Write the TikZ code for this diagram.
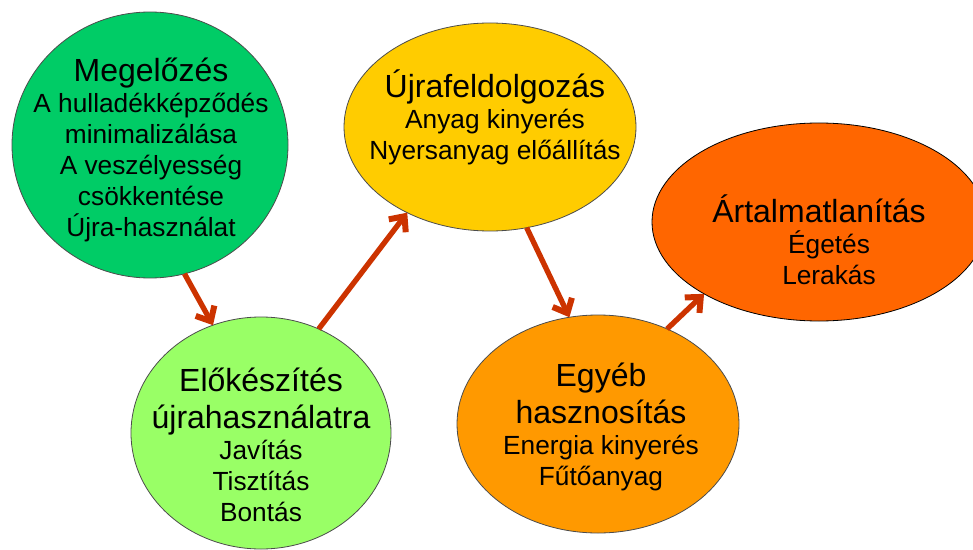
\documentclass[tikz,border=0pt]{standalone}
\usepackage{fontspec}
\setmainfont{Liberation Sans}
\usepackage{tikz}
\usetikzlibrary{shapes.geometric,arrows.meta}
\definecolor{prevgreen}{HTML}{00CC66}
\definecolor{prepgreen}{HTML}{99FF66}
\definecolor{recyellow}{HTML}{FFCC00}
\definecolor{useorange}{HTML}{FF9900}
\definecolor{dispred}{HTML}{FF6600}
\definecolor{arrowred}{HTML}{CC3300}
\newcommand{\headfont}{\fontsize{24}{28}\selectfont}
\newcommand{\itemfont}{\fontsize{19.7}{23.25}\selectfont}

\begin{document}
\begin{tikzpicture}
                        [
                            x=0.75pt, y=-0.75pt,
                            stage style/.style={ellipse, draw=black!70, line width=0.6pt, inner sep=0pt, outer sep=0pt},
                            label style/.style={align=center, font=\itemfont, inner sep=0pt},
                            flow style/.style={-{Straight Barb[length=9pt,width=16pt,line width=4.5pt]}, line width=4pt, color=arrowred}
                        ]
                        \fill[white] (0,0) rectangle (973,549);
                        \useasboundingbox (0,0) rectangle (973,549);
                        \clip (0,0) rectangle (973,549);
                        % the five stages
                        \node[stage style, fill=prevgreen, minimum width=207pt, minimum height=199.5pt] (prevent) at (150,145) {};
                        \node[stage style, fill=prepgreen, minimum width=195pt, minimum height=174pt] (prepare) at (261,433) {};
                        \node[stage style, fill=recyellow, minimum width=219pt, minimum height=156pt] (recycle) at (490,127) {};
                        \node[stage style, fill=useorange, minimum width=211.5pt, minimum height=163.5pt] (recover) at (598,424) {};
                        \node[stage style, fill=dispred, draw=black, minimum width=250.5pt, minimum height=148.5pt] (dispose) at (819,222) {};
                        % texts
                        \node[label style] (prevent text) at (151,150) {{\headfont Megelőzés}\\A hulladékképződés\\minimalizálása\\A veszélyesség\\csökkentése\\Újra-használat};
                        \node[label style] (prepare text) at (261,445) {{\headfont Előkészítés}\\[5pt]{\headfont újrahasználatra}\\Javítás\\Tisztítás\\Bontás};
                        \node[label style] (recycle text) at (495,117) {{\headfont Újrafeldolgozás}\\Anyag kinyerés\\Nyersanyag előállítás};
                        \node[label style] (recover text) at (601,427) {{\headfont Egyéb}\\[5pt]{\headfont hasznosítás}\\Energia kinyerés\\Fűtőanyag};
                        \node[label style] (dispose text) at (819,240) {{\headfont Ártalmatlanítás}\\\hspace*{15pt}Égetés\\\hspace*{15pt}Lerakás};
                        % arrows between stages
                        \draw[flow style] (prevent.-75) -- (prepare.114);
                        \draw[flow style] (prepare.61) -- (recycle.-134);
                        \draw[flow style] (recycle.-70) -- (recover.105);
                        \draw[flow style] (recover.54) -- (dispose.-148);
                        \end{tikzpicture}
\end{document}
